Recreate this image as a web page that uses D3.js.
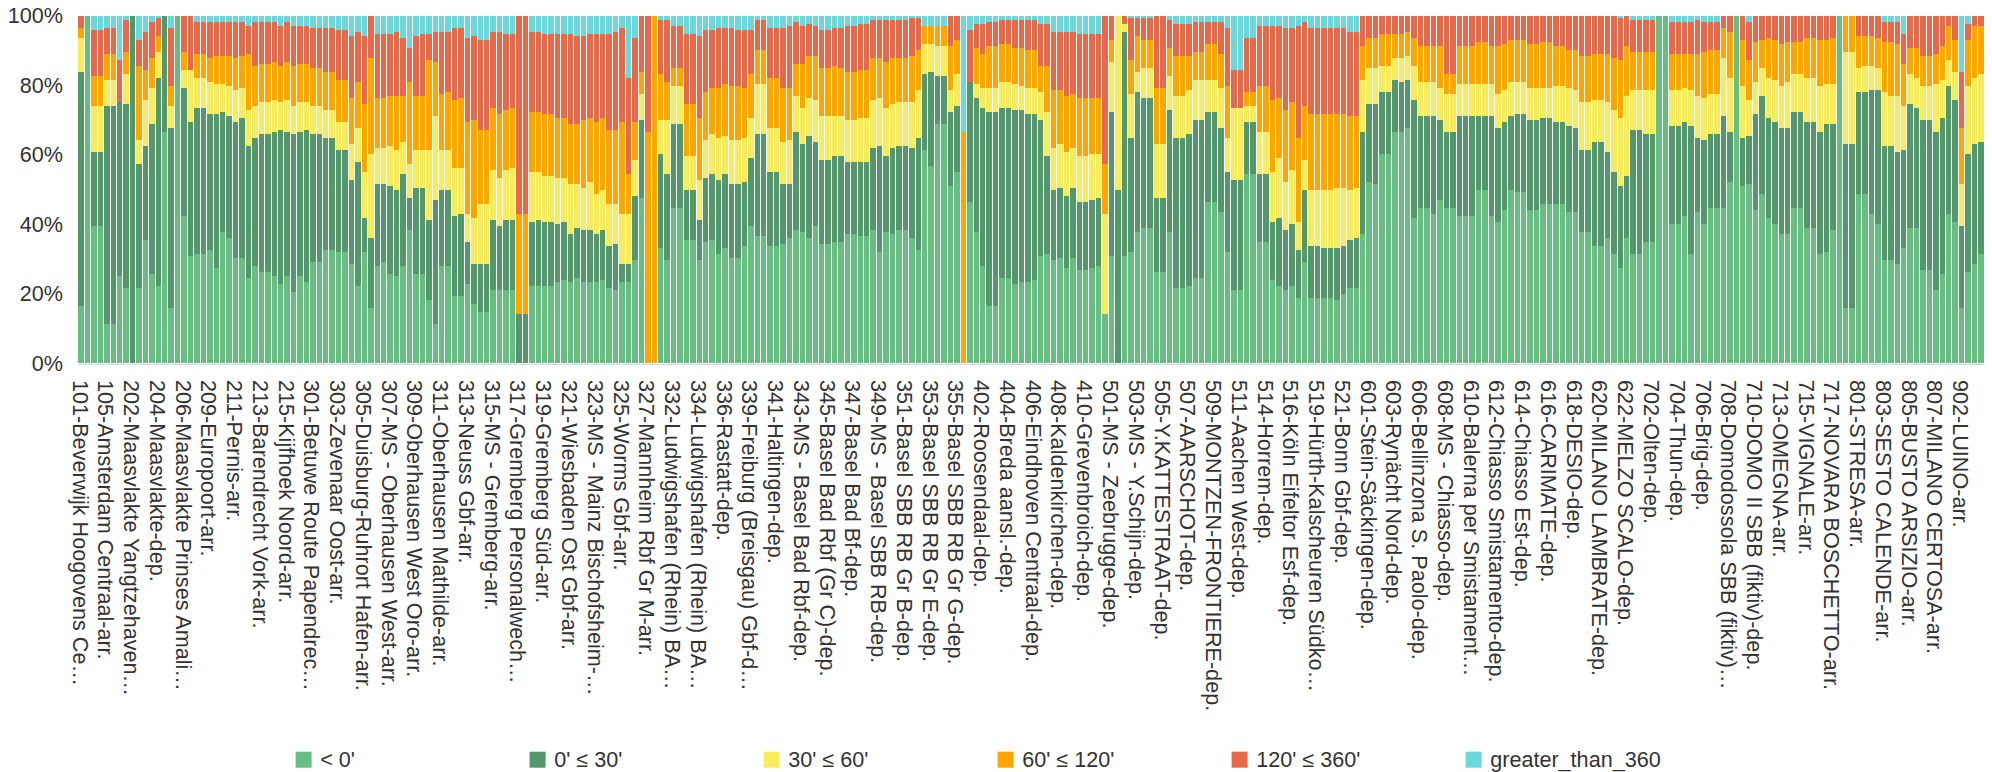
<!DOCTYPE html>
<html><head><meta charset="utf-8">
<script src="https://cdn.jsdelivr.net/npm/d3@7"></script>
<style>
body{margin:0;background:#fff}
svg{display:block}
text{font-family:"Liberation Sans",Arial,Helvetica,sans-serif;fill:#333}
</style></head>
<body><svg id="chart" width="1992" height="772"></svg>
<script>
const seriesNames = ["< 0'", "0' \u2264 30'", "30' \u2264 60'", "60' \u2264 120'", "120' \u2264 360'", "greater_than_360"];
const seriesColors = ["#66bf81", "#53986a", "#f7ec5b", "#ffa500", "#e8694a", "#6bd9db"];
const yTicks = [0, 0.2, 0.4, 0.6, 0.8, 1];
const tickLabels = [
"101-Beverwijk Hoogovens Ce\u2026","105-Amsterdam Centraal-arr.","202-Maasvlakte Yangtzehaven\u2026","204-Maasvlakte-dep.",
"206-Maasvlakte Prinses Amali\u2026","209-Europoort-arr.","211-Pernis-arr.","213-Barendrecht Vork-arr.",
"215-Kijfhoek Noord-arr.","301-Betuwe Route Papendrec\u2026","303-Zevenaar Oost-arr.","305-Duisburg-Ruhrort Hafen-arr.",
"307-MS - Oberhausen West-arr.","309-Oberhausen West Oro-arr.","311-Oberhausen Mathilde-arr.","313-Neuss Gbf-arr.",
"315-MS - Gremberg-arr.","317-Gremberg Personalwech\u2026","319-Gremberg S\u00fcd-arr.","321-Wiesbaden Ost Gbf-arr.",
"323-MS - Mainz Bischofsheim-\u2026","325-Worms Gbf-arr.","327-Mannheim Rbf Gr M-arr.","332-Ludwigshafen (Rhein) BA\u2026",
"334-Ludwigshafen (Rhein) BA\u2026","336-Rastatt-dep.","339-Freiburg (Breisgau) Gbf-d\u2026","341-Haltingen-dep.",
"343-MS - Basel Bad Rbf-dep.","345-Basel Bad Rbf (Gr C)-dep.","347-Basel Bad Bf-dep.","349-MS - Basel SBB RB-dep.",
"351-Basel SBB RB Gr B-dep.","353-Basel SBB RB Gr E-dep.","355-Basel SBB RB Gr G-dep.","402-Roosendaal-dep.",
"404-Breda aansl.-dep.","406-Eindhoven Centraal-dep.","408-Kaldenkirchen-dep.","410-Grevenbroich-dep.",
"501-MS - Zeebrugge-dep.","503-MS - Y.Schijn-dep.","505-Y.KATTESTRAAT-dep.","507-AARSCHOT-dep.",
"509-MONTZEN-FRONTIERE-dep.","511-Aachen West-dep.","514-Horrem-dep.","516-K\u00f6ln Eifeltor Esf-dep.",
"519-H\u00fcrth-Kalscheuren S\u00fcdko\u2026","521-Bonn Gbf-dep.","601-Stein-S\u00e4ckingen-dep.","603-Ryn\u00e4cht Nord-dep.",
"606-Bellinzona S. Paolo-dep.","608-MS - Chiasso-dep.","610-Balerna per Smistament\u2026","612-Chiasso Smistamento-dep.",
"614-Chiasso Est-dep.","616-CARIMATE-dep.","618-DESIO-dep.","620-MILANO LAMBRATE-dep.",
"622-MELZO SCALO-dep.","702-Olten-dep.","704-Thun-dep.","706-Brig-dep.",
"708-Domodossola SBB (fiktiv)\u2026","710-DOMO II SBB (fiktiv)-dep.","713-OMEGNA-arr.","715-VIGNALE-arr.",
"717-NOVARA BOSCHETTO-arr.","801-STRESA-arr.","803-SESTO CALENDE-arr.","805-BUSTO ARSIZIO-arr.",
"807-MILANO CERTOSA-arr.","902-LUINO-arr."];
const labelEvery = 4;

// counts per delay class, one entry per category (296 categories)
const lt0 = [
173,1043,412,412,119,119,262,227,0,227, 371,269,233,695,167,1043,443,323,329,329,
341,287,395,377,317,317,257,293,275,275, 263,239,263,215,263,245,305,305,341,341,
335,335,299,233,335,167,293,305,268,262, 292,400,268,268,190,118,292,292,202,202,
238,178,154,154,220,220,220,220,0,0, 232,232,232,232,244,250,244,256,244,244,
244,250,226,220,244,244,310,496,0,0, 346,310,466,466,370,370,310,364,370,328,
346,316,316,352,412,382,382,352,352,358, 376,400,394,376,412,358,358,364,364,388,
388,382,382,400,334,394,388,400,400,376, 340,640,592,718,718,532,574,0,484,394,
292,172,172,256,256,238,244,244,250,322, 328,310,316,286,316,280,280,286,292,148,
322,0,322,334,394,406,406,274,274,394, 226,226,232,256,256,484,484,454,334,220,
220,568,568,364,364,250,232,220,232,196, 304,196,196,196,196,190,208,226,226,388,
544,538,628,628,694,694,706,436,466,466, 448,490,466,466,442,442,442,520,520,442,
424,460,520,514,514,460,460,478,478,478, 478,454,454,394,394,352,352,376,328,286,
376,328,328,364,364,1043,1043,418,418,442, 328,454,418,466,466,466,544,1043,532,538,
460,508,436,418,388,388,466,466,406,406, 328,334,400,1043,166,166,508,508,448,418,
310,310,298,346,406,406,280,280,220,268, 448,424,166,274,298,328];
const d0to30 = [
702,0,222,222,653,653,522,551,1043,371, 282,449,623,348,539,0,383,401,437,437,
407,461,359,365,407,419,395,383,413,413, 431,461,431,473,431,455,383,383,335,335,
305,305,251,371,101,209,245,233,264,258, 276,96,258,258,240,372,228,228,240,246,
126,120,144,144,210,192,210,210,148,148, 192,198,192,192,174,174,144,150,156,156,
144,150,126,138,54,54,192,234,0,0, 282,258,252,252,150,150,120,192,198,222,
222,222,222,192,204,306,306,222,222,180, 162,294,264,306,252,252,252,258,258,216,
216,222,222,246,318,228,258,252,252,270, 336,228,282,144,144,222,198,0,360,402,
474,582,582,510,510,522,516,504,498,408, 294,210,210,216,210,204,204,204,204,0,
432,520,672,342,420,390,390,222,222,366, 450,450,456,474,474,270,270,252,240,330,
330,156,156,204,204,174,204,180,186,144, 216,156,156,150,150,156,144,144,150,306,
234,240,186,186,156,150,144,354,276,276, 294,240,228,228,300,300,300,222,222,300,
282,264,222,234,234,270,270,258,258,246, 246,258,252,246,246,312,312,258,246,246,
186,372,372,324,324,0,0,294,294,282, 384,222,252,222,222,276,150,0,144,144,
288,294,300,306,318,318,288,288,318,318, 366,384,318,0,492,492,306,306,372,402,
342,342,336,294,372,360,450,450,474,468, 384,366,246,354,360,336];
const d30to60 = [
102,0,138,138,78,78,0,90,0,72, 137,108,78,0,66,0,54,156,90,90,
96,90,84,90,96,90,108,96,96,96, 96,84,96,84,90,84,84,84,84,84,
84,84,108,102,138,252,108,108,120,120, 96,102,114,114,210,252,120,120,144,138,
84,138,180,180,150,144,150,156,0,0, 150,144,138,138,138,132,150,132,126,144,
120,120,126,120,150,150,108,78,0,0, 102,162,114,114,102,102,120,114,120,126,
114,132,132,132,120,150,150,132,132,126, 132,108,108,114,126,132,132,120,120,126,
126,132,132,144,144,144,132,132,132,138, 144,90,84,90,90,66,96,0,0,42,
60,72,72,78,78,78,72,78,78,84, 132,126,132,132,120,138,138,138,132,300,
150,523,24,132,60,90,90,162,162,102, 126,126,132,120,120,96,96,120,102,216,
216,48,48,126,126,150,180,144,162,84, 90,168,168,174,174,180,174,150,150,156,
108,108,78,78,66,72,72,102,102,102, 102,96,114,114,96,96,96,96,96,96,
102,96,102,96,96,96,96,90,90,108, 108,114,114,144,144,126,126,150,186,204,
240,120,120,132,132,0,0,108,108,102, 108,126,126,120,120,174,162,0,156,108,
96,84,120,126,126,138,114,114,132,132, 138,120,120,0,276,276,72,78,72,66,
162,150,168,132,90,90,102,102,144,114, 78,84,126,204,198,204];
const d60to120 = [
29,0,90,90,78,78,0,66,0,222, 90,90,48,0,60,0,54,0,72,72,
72,84,84,90,96,96,168,120,114,114, 114,108,114,120,114,114,114,114,114,114,
126,126,138,138,204,288,150,150,150,162, 138,246,162,162,270,162,168,174,204,210,
276,294,222,222,186,192,180,180,300,300, 180,180,186,186,180,180,180,180,204,192,
216,216,222,222,276,120,114,66,694,1043, 138,114,54,54,156,156,186,144,138,150,
156,162,162,150,132,102,102,150,150,162, 156,96,132,126,132,144,144,150,144,144,
144,144,144,126,120,138,138,132,132,138, 120,54,54,60,60,132,102,694,0,108,
102,126,126,114,114,108,114,114,114,78, 138,174,162,168,162,174,174,168,168,150,
66,0,0,102,108,84,84,168,168,84, 120,120,102,84,84,108,108,102,156,0,
0,42,42,138,138,216,180,216,204,252, 162,228,228,228,228,222,222,222,216,102,
90,90,96,96,72,72,72,84,108,108, 108,126,60,60,114,114,114,126,126,114,
144,138,126,126,126,132,132,138,138,120, 120,114,120,138,138,138,138,144,156,174,
150,114,114,114,114,0,0,108,108,102, 108,126,138,132,132,90,138,0,138,120,
120,84,120,120,126,120,96,96,120,120, 138,132,138,0,109,109,96,90,90,90,
150,162,156,126,78,90,90,90,90,102, 102,96,168,138,156,144];
const d120to360 = [
37,0,138,138,78,78,126,96,0,78, 114,108,54,0,174,0,109,163,96,96,
108,102,102,102,108,102,84,132,126,126, 120,120,120,120,114,114,120,120,132,132,
150,150,186,150,204,127,192,192,186,192, 174,102,180,186,78,90,186,180,216,210,
252,252,270,270,228,246,228,222,595,595, 240,240,240,240,252,252,270,264,252,252,
264,252,288,294,282,288,252,169,349,0, 162,186,126,126,210,210,246,186,174,180,
168,174,168,174,132,90,90,150,150,180, 186,126,114,96,90,114,114,114,120,138,
138,138,138,114,114,126,114,114,114,114, 96,0,0,0,0,91,73,0,156,72,
90,72,72,72,72,84,84,90,90,126, 126,174,174,192,186,192,192,192,192,445,
73,0,25,126,54,66,66,217,217,84, 96,96,96,90,90,66,66,96,174,114,
114,162,162,180,180,222,216,246,222,336, 252,258,258,258,258,258,258,252,252,91,
67,67,55,55,55,55,49,67,91,91, 91,91,175,175,91,91,91,79,79,91,
91,85,73,73,73,85,85,79,79,91, 91,103,103,121,121,115,115,115,127,126,
91,96,96,96,96,0,0,96,96,96, 96,102,90,84,84,37,49,0,73,114,
79,73,67,73,85,79,79,79,67,67, 73,73,67,0,0,0,61,61,61,67,
60,60,66,90,97,97,121,121,115,91, 31,73,168,48,31,31];
const gt360 = [
0,0,43,43,37,37,133,13,0,73, 49,19,7,0,37,0,0,0,19,19,
19,19,19,19,19,19,31,19,19,19, 19,31,19,31,31,31,37,37,37,37,
43,43,61,49,61,0,55,55,55,49, 67,97,61,55,55,49,49,49,37,37,
67,61,73,73,49,49,55,55,0,0, 49,49,55,55,55,55,55,61,61,55,
55,55,55,49,37,187,67,0,0,0, 13,13,31,31,55,55,61,43,43,37,
37,37,43,43,43,13,13,37,37,37, 31,19,31,25,31,43,43,37,37,31,
31,25,25,13,13,13,13,13,13,7, 7,31,31,31,31,0,0,349,43,25,
25,19,19,13,13,13,13,13,13,25, 25,49,49,49,49,55,55,55,55,0,
0,0,0,7,7,7,7,0,0,13, 25,25,25,19,19,19,19,19,37,163,
163,67,67,31,31,31,31,37,37,31, 19,37,37,37,37,37,37,49,49,0,
0,0,0,0,0,0,0,0,0,0, 0,0,0,0,0,0,0,0,0,0,
0,0,0,0,0,0,0,0,0,0, 0,0,0,0,0,0,0,0,0,7,
0,13,13,13,13,0,0,19,19,19, 19,13,19,19,19,0,0,0,0,19,
0,0,0,0,0,0,0,0,0,0, 0,0,0,0,0,0,0,0,0,0,
19,19,19,55,0,0,0,0,0,0, 0,0,169,25,0,0];

const seriesValues = [lt0, d0to30, d30to60, d60to120, d120to360, gt360];
const keys = seriesNames;
const N = lt0.length;
const categories = d3.range(N).map(i => i % labelEvery === 0 ? tickLabels[i / labelEvery] : tickLabels[Math.floor(i / labelEvery)] + " #" + (i % labelEvery));
const rows = categories.map((c, i) => {
  const r = {cat: c};
  keys.forEach((k, s) => r[k] = seriesValues[s][i]);
  return r;
});

const svg = d3.select("#chart");
const plot = {left: 78.3, right: 1984.7, top: 15.7, bottom: 363.3};
const x = d3.scaleBand().domain(categories).range([plot.left, plot.right]).padding(0);
const y = d3.scaleLinear().domain([0, 1]).range([plot.bottom, plot.top]);
const color = d3.scaleOrdinal().domain(keys).range(seriesColors);

const stacked = d3.stack().keys(keys).offset(d3.stackOffsetExpand)(rows);

const gBars = svg.append("g").attr("shape-rendering", "crispEdges");
gBars.selectAll("g").data(stacked).join("g")
  .attr("fill", d => color(d.key))
  .selectAll("rect").data(d => d).join("rect")
  .attr("x", d => Math.round(x(d.data.cat)))
  .attr("width", d => Math.round(x(d.data.cat) + x.bandwidth()) - Math.round(x(d.data.cat)) - 1)
  .attr("y", d => y(d[1]))
  .attr("height", d => Math.max(0, y(d[0]) - y(d[1])));

// axis line
svg.append("line").attr("x1", plot.left).attr("x2", plot.right)
  .attr("y1", 364.5).attr("y2", 364.5).attr("stroke", "#ccd6eb").attr("stroke-width", 1);

// y axis labels
svg.append("g").selectAll("text").data(yTicks).join("text")
  .attr("x", 63).attr("y", d => y(d)).attr("dy", "0.35em")
  .attr("text-anchor", "end").style("font-size", "21.6px")
  .text(d3.format(".0%"));

// x axis labels (every 4th category)
const shown = categories.filter((c, i) => i % labelEvery === 0);
svg.append("g").selectAll("text").data(shown).join("text")
  .attr("transform", d => `translate(${x(d) + x.bandwidth() / 2},380) rotate(90)`)
  .attr("dy", 9)
  .style("font-size", "21.6px")
  .text((d, j) => tickLabels[j]);

// legend
const lg = svg.append("g").selectAll("g").data(keys).join("g")
  .attr("transform", (d, i) => `translate(${295.6 + 234 * i},751.7)`);
lg.append("rect").attr("width", 16).attr("height", 16).attr("fill", d => color(d));
lg.append("text").attr("x", 24.6).attr("y", 15.3).style("font-size", "21.6px").text(d => d);
</script>
</body></html>
